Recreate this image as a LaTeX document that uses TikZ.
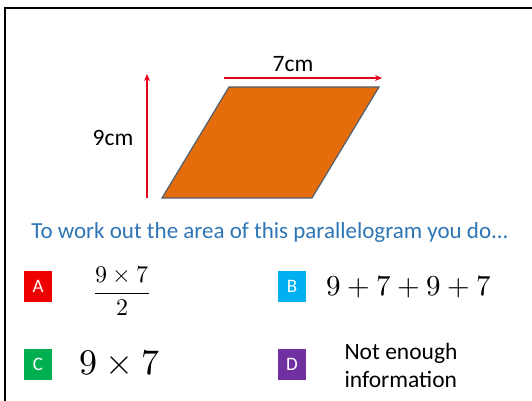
\documentclass[tikz,border=0pt]{standalone}
\usepackage{amsmath}
\usepackage{fontspec}
\usepackage{unicode-math}
\setmainfont{Carlito}
\setmathfont{Latin Modern Math}
\usetikzlibrary{arrows.meta, positioning}
\definecolor{shapeorange}{RGB}{228,108,10}
\definecolor{shapeedge}{RGB}{80,96,118}
\definecolor{dimred}{RGB}{226,0,26}
\definecolor{questblue}{RGB}{46,117,182}
\definecolor{optA}{RGB}{238,0,0}
\definecolor{optB}{RGB}{0,176,240}
\definecolor{optC}{RGB}{0,176,80}
\definecolor{optD}{RGB}{112,48,160}

\begin{document}
\begin{tikzpicture}[x=1pt, y=-1pt,
    letterbox/.style={minimum width=28pt, minimum height=31pt, inner sep=0pt, text=white, font=\fontsize{19}{19}\selectfont},
    dimarrow/.style={draw=dimred, line width=1.6pt, -{Stealth[length=7pt, width=6pt]}},
    dimlabel/.style={font=\fontsize{23.5}{23.5}\selectfont},
    answer/.style={inner sep=0pt},
]
\useasboundingbox (0,0) rectangle (532,401);
\draw[line width=2.5pt] (5,401) -- (5,8) -- (532,8);
% parallelogram
\coordinate (bl) at (162,198);
\coordinate (br) at (312,198);
\coordinate (tr) at (379,87);
\coordinate (tl) at (229,87);
\filldraw[fill=shapeorange, draw=shapeedge, line width=1.2pt] (bl) -- (br) -- (tr) -- (tl) -- cycle;
% dimensions
\coordinate (vstart) at (147,198);
\coordinate (vend) at (147,74);
\coordinate (hstart) at (224,78);
\coordinate (hend) at (382,78);
\draw[dimarrow] (vstart) -- (vend);
\draw[dimarrow] (hstart) -- (hend);
\node[dimlabel] (width) at (293,64) {7cm};
\node[dimlabel] (height) at (113,138) {9cm};
% question
\node[font=\fontsize{23}{23}\selectfont, text=questblue] (question) at (270,232) {To work out the area of this parallelogram you do...};
\node[letterbox, fill=optA] (boxA) at (38,286) {A};
\node[letterbox, fill=optB] (boxB) at (292,286) {B};
\node[letterbox, fill=optC] (boxC) at (38,364) {C};
\node[letterbox, fill=optD] (boxD) at (292,364) {D};
\node[answer, font=\fontsize{24}{24}\selectfont] (ansA) at (122,291) {$\dfrac{9\times 7}{2}$};
\node[answer, font=\fontsize{29}{29}\selectfont] (ansB) at (409,287) {$9+7+9+7$};
\node[answer, font=\fontsize{36}{36}\selectfont] (ansC) at (120,363) {$9\times 7$};
\node[answer, font=\fontsize{23.5}{28}\selectfont, align=left] (ansD) at (401,365) {Not enough\\information};
\end{tikzpicture}
\end{document}
